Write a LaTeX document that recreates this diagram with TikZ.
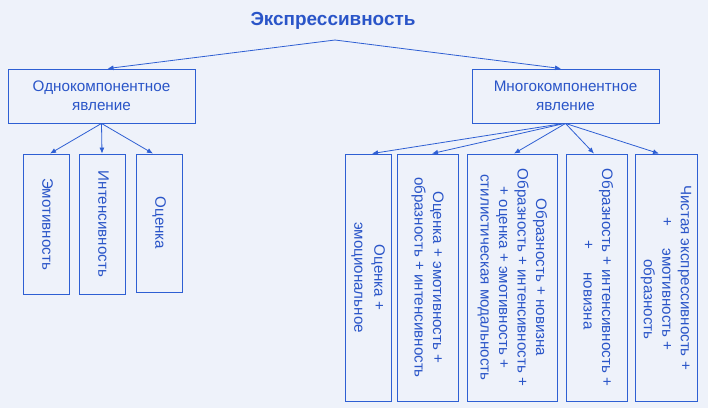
\documentclass[tikz,border=0pt]{standalone}
\usepackage{fontspec}
\setmainfont{Liberation Sans}
\usetikzlibrary{arrows.meta}
\definecolor{bgc}{HTML}{EEF2FA}
\definecolor{lnc}{HTML}{2E5FD3}
\definecolor{txc}{HTML}{2A55C8}
\newcommand{\vlines}[1]{\rotatebox{-90}{\fontsize{15.2}{18.6}\selectfont\begin{tabular}{@{}c@{}}#1\end{tabular}}}
\begin{document}
\begin{tikzpicture}[x=1bp,y=-1bp,
  box/.style={draw=lnc, line width=0.9bp, inner sep=0pt, text=txc, align=center},
  topbox/.style={box, minimum width=187bp, minimum height=54bp, font=\fontsize{15.3}{19}\selectfont},
  conn/.style={draw=lnc, line width=0.8bp, -{Latex[length=6bp,width=5bp]}},
  ]
\fill[bgc] (0,0) rectangle (708,408);
\useasboundingbox (0,0) rectangle (708,408);

\node[text=txc, font=\bfseries\fontsize{19}{23}\selectfont] (title) at (333,21) {Экспрессивность};
\coordinate (tb) at (335,40);

\node[topbox] (L) at (101.5,96) {Однокомпонентное\\явление};
\node[topbox] (R) at (565.5,96) {Многокомпонентное\\явление};

\node[box, minimum width=46bp, minimum height=140bp] (e1) at (46,224) {\vlines{Эмотивность}};
\node[box, minimum width=46bp, minimum height=140bp] (e2) at (102,224) {\vlines{Интенсивность}};
\node[box, minimum width=46bp, minimum height=138bp] (e3) at (159,223) {\vlines{Оценка}};

\node[box, minimum width=46bp, minimum height=247bp] (mA) at (368,277.5) {\vlines{Оценка +\\[1.5bp] эмоциональное}};
\node[box, minimum width=61bp, minimum height=247bp] (mB) at (427.5,277.5) {\vlines{Оценка + эмотивность +\\ образность + интенсивность}};
\node[box, minimum width=90bp, minimum height=247bp] (mC) at (512,277.5) {\vlines{Образность + новизна\\ Образность + интенсивность +\\ + оценка + эмотивность +\\ стилистическая модальность}};
\node[box, minimum width=61bp, minimum height=247bp] (mD) at (596.5,277.5) {\vlines{Образность + интенсивность +\\ \hspace*{1em}+\hspace{1.54em}новизна}};
\node[box, minimum width=62bp, minimum height=247bp] (mE) at (666,277.5) {\vlines{Чистая экспрессивность +\\ \hspace*{0.85em}+\hspace{1.47em}эмотивность +\\ \hspace*{2.9em}образность}};

\draw[conn] (tb) -- ([xshift=6bp]L.north);
\draw[conn] (tb) -- ([xshift=-4.5bp]R.north);

\draw[conn] (L.south) -- ([xshift=4bp]e1.north);
\draw[conn] (L.south) -- (e2.north);
\draw[conn] (L.south) -- ([xshift=-6bp]e3.north);

\draw[conn] ([xshift=-2bp]R.south) -- ([xshift=4bp]mA.north);
\draw[conn] ([xshift=-1bp]R.south) -- ([xshift=4.5bp]mB.north);
\draw[conn] (R.south) -- ([xshift=2bp]mC.north);
\draw[conn] (R.south) -- ([xshift=-2.5bp]mD.north);
\draw[conn] (R.south) -- ([xshift=-7bp]mE.north);
\end{tikzpicture}
\end{document}
